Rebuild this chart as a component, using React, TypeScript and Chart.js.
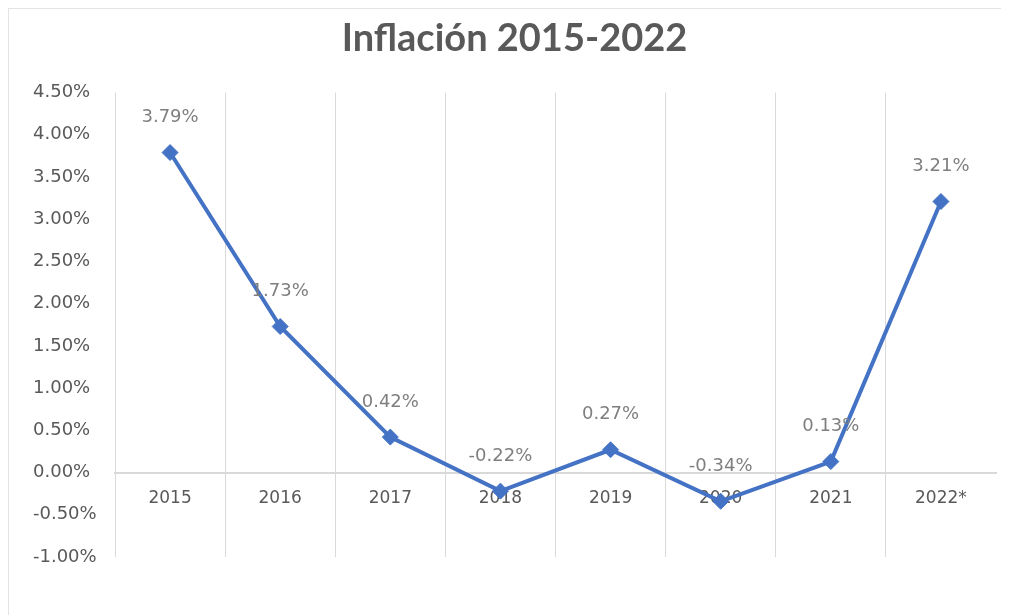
import React, { useEffect, useRef } from "react";
import { Chart, registerables } from "chart.js";

Chart.register(...registerables);

const categories = ["2015", "2016", "2017", "2018", "2019", "2020", "2021", "2022*"];
const inflation = [3.79, 1.73, 0.42, -0.22, 0.27, -0.34, 0.13, 3.21];
const yMin = -1;
const yMax = 4.5;
const yStep = 0.5;
const titleText = "Inflación 2015-2022";

const TICK_FONT = "'DejaVu Sans', sans-serif";

const dataLabelPlugin = {
  id: "dataLabels",
  afterDatasetsDraw(chart: any) {
    const ctx = chart.ctx;
    const meta = chart.getDatasetMeta(0);
    const values = chart.data.datasets[0].data as number[];
    ctx.save();
    ctx.font = `18px ${TICK_FONT}`;
    ctx.fillStyle = "#7f7f7f";
    ctx.textAlign = "center";
    ctx.textBaseline = "middle";
    meta.data.forEach((pt: any, i: number) => {
      ctx.fillText(values[i].toFixed(2) + "%", pt.x, pt.y - 35);
    });
    ctx.restore();
  },
};

export default function App() {
  const canvasRef = useRef<HTMLCanvasElement | null>(null);

  useEffect(() => {
    if (!canvasRef.current) return;
    const chart = new Chart(canvasRef.current, {
      type: "line",
      data: {
        labels: categories,
        datasets: [
          {
            data: inflation,
            borderColor: "#4472C4",
            backgroundColor: "#4472C4",
            borderWidth: 4,
            pointStyle: "rectRot",
            pointRadius: 8,
            pointBorderWidth: 1,
            tension: 0,
          },
        ],
      },
      options: {
        animation: false,
        responsive: true,
        maintainAspectRatio: false,
        layout: { padding: { left: 24, right: 13, top: 0, bottom: 58 } },
        plugins: {
          legend: { display: false },
          tooltip: { enabled: false },
          title: {
            display: true,
            text: titleText,
            color: "#595959",
            font: { family: "Lato, sans-serif", size: 38, weight: "bold" },
            padding: { top: 7, bottom: 31 },
          },
        },
        scales: {
          x: {
            position: { y: 0 },
            offset: true,
            grid: {
              display: true,
              offset: true,
              drawTicks: false,
              color: (c: any) => (c.type === "tick" ? "#d9d9d9" : "rgba(0,0,0,0)"),
              lineWidth: 1,
            },
            border: { display: true, color: "#d9d9d9", width: 2 },
            ticks: {
              color: "#595959",
              font: { family: TICK_FONT, size: 17 },
              padding: 16,
            },
          },
          y: {
            min: yMin,
            max: yMax,
            grid: { display: false, drawTicks: false },
            border: { display: false },
            afterFit: (s: any) => {
              s.width = 82;
            },
            ticks: {
              stepSize: yStep,
              color: "#595959",
              padding: 14,
              crossAlign: "far",
              font: { family: TICK_FONT, size: 18 },
              callback: (v: any) => Number(v).toFixed(2) + "%",
            },
          },
        },
      },
      plugins: [dataLabelPlugin],
    });
    return () => chart.destroy();
  }, []);

  return (
    <div
      style={{
        position: "relative",
        width: 1001,
        height: 607,
        boxSizing: "border-box",
        borderTop: "1px solid #e4e4e4",
        borderLeft: "1px solid #e4e4e4",
        background: "#ffffff",
      }}
    >
      <canvas ref={canvasRef} />
    </div>
  );
}
